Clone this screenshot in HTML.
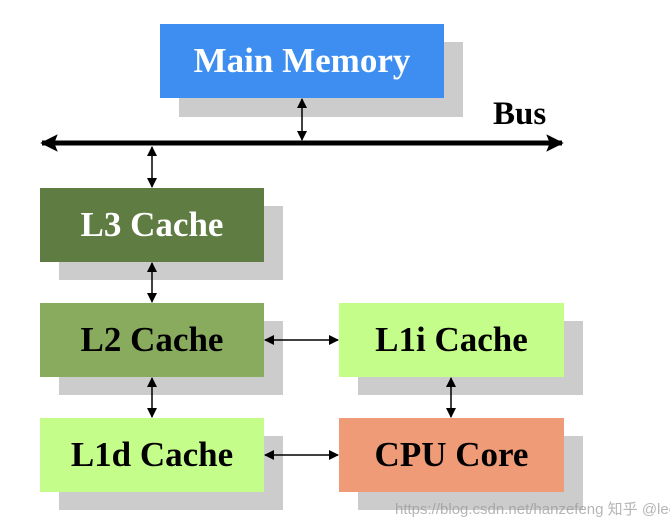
<!DOCTYPE html>
<html><head><meta charset="utf-8"><style>
body{margin:0;width:670px;height:528px;background:#fff;overflow:hidden;position:relative;font-family:"Liberation Serif",serif}
.b{position:absolute;display:flex;align-items:center;justify-content:center;font-weight:bold;font-size:35px;color:#000;box-sizing:border-box}
.s{position:absolute;background:#cccccc}
</style></head><body>
<div class="s" style="left:179px;top:42px;width:284px;height:75px"></div>
<div class="s" style="left:59px;top:206px;width:224px;height:74px"></div>
<div class="s" style="left:59px;top:321px;width:224px;height:74px"></div>
<div class="s" style="left:358px;top:321px;width:225px;height:74px"></div>
<div class="s" style="left:59px;top:436px;width:224px;height:74px"></div>
<div class="s" style="left:358px;top:436px;width:225px;height:74px"></div>
<div class="b" style="left:160px;top:24px;width:284px;height:74px;background:#3d8ef0;color:#fff">Main Memory</div>
<div class="b" style="left:40px;top:188px;width:224px;height:74px;background:#5f7c42;color:#fff">L3 Cache</div>
<div class="b" style="left:40px;top:303px;width:224px;height:74px;background:#88ab5e">L2 Cache</div>
<div class="b" style="left:339px;top:303px;width:225px;height:74px;background:#c5fd8a">L1i Cache</div>
<div class="b" style="left:40px;top:418px;width:224px;height:74px;background:#c5fd8a">L1d Cache</div>
<div class="b" style="left:339px;top:418px;width:225px;height:74px;background:#f09b78">CPU Core</div>
<div style="position:absolute;left:493px;top:96px;font-weight:bold;font-size:33px">Bus</div>
<svg width="670" height="528" style="position:absolute;left:0;top:0">
<defs>
<marker id="a" viewBox="0 0 10 10" refX="9" refY="5" markerWidth="10" markerHeight="10" markerUnits="userSpaceOnUse" orient="auto-start-reverse"><path d="M0,0L10,5L0,10z" fill="#000"/></marker>
<marker id="big" viewBox="0 0 10 10" refX="9" refY="5" markerWidth="4" markerHeight="3.5" orient="auto-start-reverse"><path d="M0,0L10,5L0,10L2,5z" fill="#000"/></marker>
</defs>
<line x1="42" y1="143" x2="562" y2="143" stroke="#000" stroke-width="5" marker-start="url(#big)" marker-end="url(#big)"/>
<g stroke="#000" stroke-width="1.5" fill="none">
<line x1="302" y1="99" x2="302" y2="140" marker-start="url(#a)" marker-end="url(#a)"/>
<line x1="152" y1="147" x2="152" y2="187" marker-start="url(#a)" marker-end="url(#a)"/>
<line x1="152" y1="263" x2="152" y2="302" marker-start="url(#a)" marker-end="url(#a)"/>
<line x1="152" y1="378" x2="152" y2="417" marker-start="url(#a)" marker-end="url(#a)"/>
<line x1="451" y1="378" x2="451" y2="417" marker-start="url(#a)" marker-end="url(#a)"/>
<line x1="265" y1="340" x2="338" y2="340" marker-start="url(#a)" marker-end="url(#a)"/>
<line x1="265" y1="455" x2="338" y2="455" marker-start="url(#a)" marker-end="url(#a)"/>
</g>
</svg>
<div style="position:absolute;left:395px;top:498px;font-family:'Liberation Sans','Noto Sans CJK SC',sans-serif;font-size:15px;color:rgba(150,150,150,0.7);white-space:nowrap">https://blog.csdn.net/hanzefeng 知乎 @lecury</div>
</body></html>
